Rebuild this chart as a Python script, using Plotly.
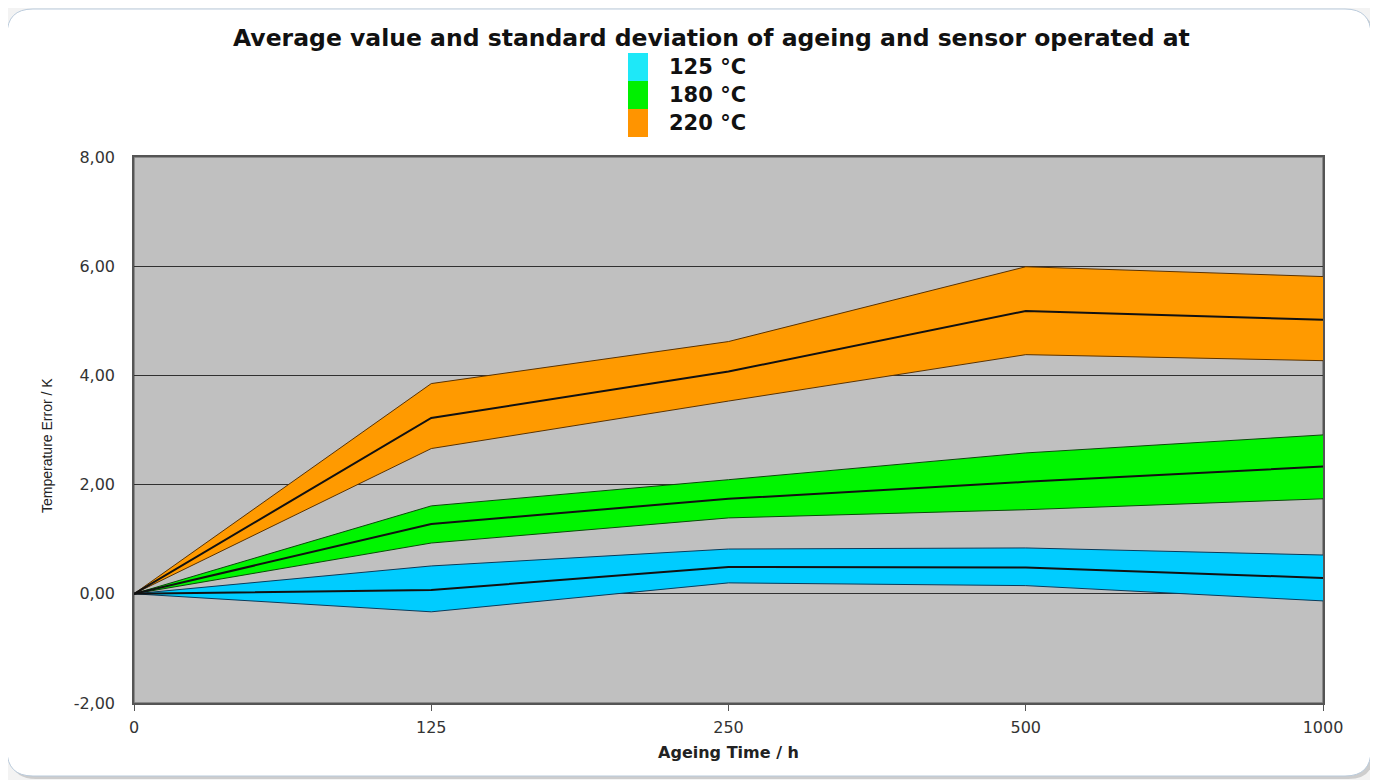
import plotly.graph_objects as go

# ---- data ----
ageing_time = ["0", "125", "250", "500", "1000"]

mean_125 = [0.0, 0.07, 0.49, 0.48, 0.29]
upper_125 = [0.0, 0.51, 0.82, 0.84, 0.71]
lower_125 = [0.0, -0.33, 0.20, 0.15, -0.13]

mean_180 = [0.0, 1.28, 1.74, 2.05, 2.33]
upper_180 = [0.0, 1.61, 2.09, 2.58, 2.91]
lower_180 = [0.0, 0.93, 1.39, 1.54, 1.74]

mean_220 = [0.0, 3.22, 4.07, 5.18, 5.02]
upper_220 = [0.0, 3.85, 4.62, 5.99, 5.81]
lower_220 = [0.0, 2.66, 3.53, 4.38, 4.27]

legend_labels = ["125 °C", "180 °C", "220 °C"]
y_ticks = [-2, 0, 2, 4, 6, 8]
y_tick_text = [f"{v:.2f}".replace(".", ",") for v in y_ticks]

# ---- layout geometry (page is offset by the body margin) ----
OFF = 8
W, H = 1378, 780
L, R, T, B = 134 - OFF, 1323 - OFF, 157 - OFF, 703 - OFF

FONT = "DejaVu Sans, Liberation Sans, Arial"


def px(x):
    return (x - OFF - L) / (R - L)


def py(y):
    return (B - (y - OFF)) / (B - T)


def rounded_path(x0, y0, x1, y1, r):
    pts = [
        ("M", x0 + r, y0), ("L", x1 - r, y0), ("Q", x1, y0, x1, y0 + r),
        ("L", x1, y1 - r), ("Q", x1, y1, x1 - r, y1), ("L", x0 + r, y1),
        ("Q", x0, y1, x0, y1 - r), ("L", x0, y0 + r), ("Q", x0, y0, x0 + r, y0),
    ]
    s = ""
    for p in pts:
        cmd = p[0]
        coords = p[1:]
        parts = []
        for i in range(0, len(coords), 2):
            parts.append(f"{px(coords[i]):.5f},{py(coords[i+1]):.5f}")
        s += cmd + " " + " ".join(parts) + " "
    return s + "Z"


fig = go.Figure()

series = [
    (upper_220, mean_220, lower_220, "#ff9a00", "#5a3200"),
    (upper_180, mean_180, lower_180, "#00f500", "#0a4a0a"),
    (upper_125, mean_125, lower_125, "#00ccff", "#0a3a5a"),
]
for up, mn, lo, fill, edge in series:
    fig.add_trace(go.Scatter(x=ageing_time, y=up, mode="lines",
                             line=dict(color=edge, width=1), showlegend=False,
                             hoverinfo="skip"))
    fig.add_trace(go.Scatter(x=ageing_time, y=lo, mode="lines", fill="tonexty",
                             fillcolor=fill, line=dict(color=edge, width=1),
                             showlegend=False, hoverinfo="skip"))
for up, mn, lo, fill, edge in series:
    fig.add_trace(go.Scatter(x=ageing_time, y=mn, mode="lines",
                             line=dict(color="#111111", width=2), showlegend=False))

shapes = [
    dict(type="path", xref="paper", yref="paper", layer="below",
         path=rounded_path(10, 12, 1374, 779, 26), fillcolor="#cdcdcd",
         line=dict(width=0)),
    dict(type="path", xref="paper", yref="paper", layer="below",
         path=rounded_path(7, 9, 1371, 776, 26), fillcolor="#ffffff",
         line=dict(color="#b9cadb", width=1)),
    dict(type="rect", xref="paper", yref="paper", layer="below",
         x0=0, x1=1, y0=0, y1=1, fillcolor="#c0c0c0",
         line=dict(color="#7a7a7a", width=1.5)),
]

legend_colors = ["#1ee8f8", "#00f000", "#ff9400"]
annotations = []
for i, (lab, col) in enumerate(zip(legend_labels, legend_colors)):
    top = 53 + 28 * i
    shapes.append(dict(type="rect", xref="paper", yref="paper",
                       x0=px(628), x1=px(648), y0=py(top + 28), y1=py(top),
                       fillcolor=col, line=dict(width=0)))
    annotations.append(dict(xref="paper", yref="paper", x=px(667), y=py(top + 14),
                            text=lab, showarrow=False, xanchor="left", yanchor="middle",
                            font=dict(family=FONT, size=21,
                                      color="#111111", weight="bold")))

annotations.append(dict(xref="paper", yref="paper", x=px(711), y=py(38),
                        text="Average value and standard deviation of ageing and sensor operated at",
                        showarrow=False, xanchor="center", yanchor="middle",
                        font=dict(family=FONT, size=23.5,
                                  color="#111111", weight="bold")))

annotations.append(dict(xref="paper", yref="paper", x=px(47), y=py(446),
                        text="Temperature Error / K", textangle=-90,
                        showarrow=False, xanchor="center", yanchor="middle",
                        font=dict(family="Liberation Sans, Arial", size=14,
                                  color="#222222")))

fig.update_layout(
    width=W, height=H,
    margin=dict(l=L, r=W - R, t=T, b=H - B, autoexpand=False),
    paper_bgcolor="#f3f3f3",
    plot_bgcolor="rgba(0,0,0,0)",
    showlegend=False,
    shapes=shapes,
    annotations=annotations,
    font=dict(family=FONT, color="#333333"),
)

fig.update_xaxes(
    type="category", range=[0, 4], showgrid=False, zeroline=False,
    showline=True, linecolor="#555555", linewidth=1.5, mirror=True,
    ticks="outside", ticklen=6, tickcolor="#555555",
    ticklabelstandoff=3,
    tickfont=dict(family=FONT, size=16, color="#333333"),
    title=dict(text="Ageing Time / h", standoff=11,
               font=dict(family=FONT, size=16, color="#222222", weight="bold")),
)
fig.update_yaxes(
    range=[-2, 8], tickvals=y_ticks, ticktext=y_tick_text,
    showgrid=True, gridcolor="#303030", gridwidth=1, zeroline=False,
    showline=True, linecolor="#555555", linewidth=1.5, mirror=True,
    ticks="", ticklabelstandoff=14,
    tickfont=dict(family=FONT, size=16, color="#333333"),
)

fig.write_html("out.html")
